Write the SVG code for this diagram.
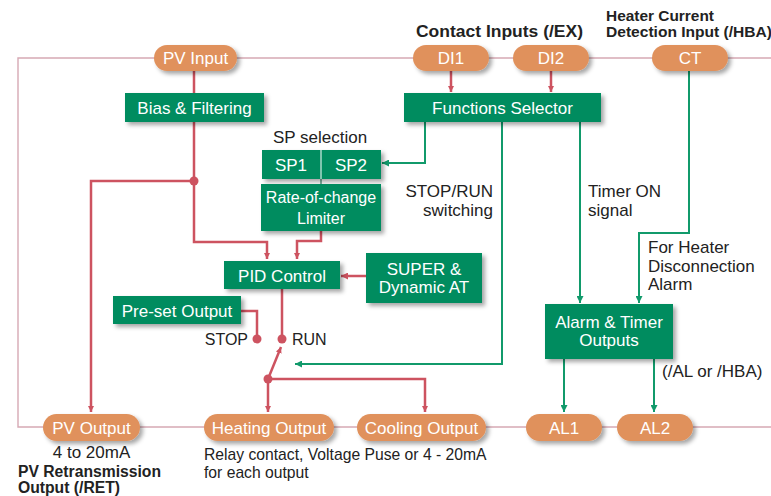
<svg xmlns="http://www.w3.org/2000/svg" width="771" height="496" viewBox="0 0 771 496">
<defs>
<filter id="sh" x="-10%" y="-20%" width="130%" height="160%">
<feDropShadow dx="3" dy="3" stdDeviation="2" flood-color="#000" flood-opacity="0.35"/>
</filter>
<marker id="ar" viewBox="0 0 10 10" refX="10" refY="5" markerWidth="6" markerHeight="9" markerUnits="userSpaceOnUse" orient="auto"><path d="M0,0 L10,5 L0,10 Z" fill="#cd5360"/></marker>
<marker id="ag" viewBox="0 0 10 10" refX="10" refY="5" markerWidth="10" markerHeight="7" markerUnits="userSpaceOnUse" orient="auto"><path d="M0,0 L10,5 L0,10 Z" fill="#119a6b"/></marker>
<marker id="ar2" viewBox="0 0 10 10" refX="10" refY="5" markerWidth="10" markerHeight="7" markerUnits="userSpaceOnUse" orient="auto"><path d="M0,0 L10,5 L0,10 Z" fill="#cd5360"/></marker>
</defs>
<style>
text{font-family:"Liberation Sans",Arial,sans-serif;}
.frame{fill:none;stroke:#d6a9b4;stroke-width:1.4;}
.r{fill:none;stroke:#cd5360;stroke-width:2.5;}
.g{fill:none;stroke:#119a6b;stroke-width:2;}
.box{fill:#008c5f;filter:url(#sh);}
.pill{fill:#e0915c;filter:url(#sh);}
.wt{fill:#fff;font-size:17px;text-anchor:middle;}
.lb{fill:#222;font-size:17px;}
.hd{fill:#222;font-size:16px;font-weight:bold;}
.dot{fill:#cd5360;}
</style>
<rect width="771" height="496" fill="#fff"/>
<g id="frame">
<path class="frame" d="M771,58 H18 V427 H771"/>
</g>
<g id="connectors">
<path class="r" d="M194,71 V242 H267 V259" marker-end="url(#ar)"/>
<path class="r" d="M194,181 H91 V412" marker-end="url(#ar)"/>
<path class="r" d="M451,71 V92" marker-end="url(#ar)"/>
<path class="r" d="M551,71 V92" marker-end="url(#ar)"/>
<path class="r" d="M321,231 V241 H297 V259" marker-end="url(#ar)"/>
<path class="r" d="M366,276 H341" marker-end="url(#ar2)"/>
<path class="r" d="M282,289 V339"/>
<path class="r" d="M241,311 H257 V339"/>
<path class="r" d="M268,379 L281,347" marker-end="url(#ar)"/>
<path class="r" d="M268,379 V412" marker-end="url(#ar)"/>
<path class="r" d="M268,379 H425 V412" marker-end="url(#ar)"/>
<circle class="dot" cx="194" cy="181" r="4.5"/>
<circle class="dot" cx="257" cy="339" r="4.5"/>
<circle class="dot" cx="282" cy="339" r="4.5"/>
<circle class="dot" cx="268" cy="379" r="4.5"/>
<path class="g" d="M425,122 V163 H382" marker-end="url(#ag)"/>
<path class="g" d="M502,122 V364 H295" marker-end="url(#ag)"/>
<path class="g" d="M580,122 V303" marker-end="url(#ag)"/>
<path class="g" d="M689,71 V233 H639 V303" marker-end="url(#ag)"/>
<path class="g" d="M564,359 V412" marker-end="url(#ag)"/>
<path class="g" d="M654,359 V412" marker-end="url(#ag)"/>
<path d="M321,179 V184" stroke="#0a6b48" stroke-width="1"/>
</g>
<g id="pv-input"><rect class="pill" x="154" y="45" width="83" height="26" rx="13"/><text class="wt" x="195.5" y="64">PV Input</text></g>
<g id="di1"><rect class="pill" x="413" y="45" width="76" height="26" rx="13"/><text class="wt" x="451" y="64">DI1</text></g>
<g id="di2"><rect class="pill" x="513" y="45" width="76" height="26" rx="13"/><text class="wt" x="551" y="64">DI2</text></g>
<g id="ct"><rect class="pill" x="652" y="45" width="76" height="26" rx="13"/><text class="wt" x="690" y="64">CT</text></g>
<g id="headings">
<text class="hd" x="416" y="37" textLength="167" lengthAdjust="spacingAndGlyphs">Contact Inputs (/EX)</text>
<text class="hd" x="606" y="21" style="font-size:14px" textLength="108" lengthAdjust="spacingAndGlyphs">Heater Current</text>
<text class="hd" x="606" y="37" style="font-size:14px" textLength="166" lengthAdjust="spacingAndGlyphs">Detection Input (/HBA)</text>
</g>
<g id="bias"><rect class="box" x="125" y="93" width="139" height="29"/><text class="wt" x="194.5" y="114">Bias &amp; Filtering</text></g>
<g id="functions-selector"><rect class="box" x="404" y="93" width="197" height="29"/><text class="wt" x="502.5" y="114">Functions Selector</text></g>
<g id="sp-selection">
<text class="lb" x="273" y="143">SP selection</text>
<rect class="box" x="262" y="150" width="119" height="29"/>
<line x1="321" y1="150" x2="321" y2="179" stroke="#fff" stroke-width="1"/>
<text class="wt" x="291" y="171">SP1</text>
<text class="wt" x="351" y="171">SP2</text>
</g>
<g id="rate-limiter"><rect class="box" x="261" y="184" width="120" height="47"/><text class="wt" x="321" y="203" style="font-size:16px">Rate-of-change</text><text class="wt" x="321" y="224" style="font-size:16px">Limiter</text></g>
<g id="pid"><rect class="box" x="224" y="261" width="116" height="28"/><text class="wt" x="282" y="282">PID Control</text></g>
<g id="super"><rect class="box" x="366" y="253" width="116" height="50"/><text class="wt" x="424" y="275">SUPER &amp;</text><text class="wt" x="424" y="293">Dynamic AT</text></g>
<g id="preset"><rect class="box" x="113" y="296" width="128" height="28"/><text class="wt" x="177" y="317">Pre-set Output</text></g>
<g id="switch-labels">
<text class="lb" x="248" y="345" text-anchor="end" style="font-size:16px">STOP</text>
<text class="lb" x="292" y="345" style="font-size:16px">RUN</text>
</g>
<g id="side-labels">
<text class="lb" x="493" y="197" text-anchor="end">STOP/RUN</text>
<text class="lb" x="493" y="216" text-anchor="end">switching</text>
<text class="lb" x="588" y="197">Timer ON</text>
<text class="lb" x="588" y="216">signal</text>
<text class="lb" x="648" y="253">For Heater</text>
<text class="lb" x="648" y="272">Disconnection</text>
<text class="lb" x="648" y="290">Alarm</text>
<text class="lb" x="662" y="377">(/AL or /HBA)</text>
</g>
<g id="alarm-timer"><rect class="box" x="545" y="304" width="128" height="55"/><text class="wt" x="609" y="328">Alarm &amp; Timer</text><text class="wt" x="609" y="346">Outputs</text></g>
<g id="pv-output"><rect class="pill" x="43" y="414" width="97" height="27" rx="13.5"/><text class="wt" x="91.5" y="434">PV Output</text></g>
<g id="heating-output"><rect class="pill" x="204" y="414" width="130" height="27" rx="13.5"/><text class="wt" x="269" y="434">Heating Output</text></g>
<g id="cooling-output"><rect class="pill" x="357" y="414" width="129" height="27" rx="13.5"/><text class="wt" x="421.5" y="434">Cooling Output</text></g>
<g id="al1"><rect class="pill" x="526" y="414" width="76" height="27" rx="13.5"/><text class="wt" x="564" y="434">AL1</text></g>
<g id="al2"><rect class="pill" x="617" y="414" width="76" height="27" rx="13.5"/><text class="wt" x="655" y="434">AL2</text></g>
<g id="bottom-labels">
<text class="lb" x="91.5" y="458" text-anchor="middle">4 to 20mA</text>
<text class="hd" x="18" y="477" textLength="143" lengthAdjust="spacingAndGlyphs">PV Retransmission</text>
<text class="hd" x="18" y="493" textLength="102" lengthAdjust="spacingAndGlyphs">Output (/RET)</text>
<text class="lb" x="204" y="460" style="font-size:15.7px">Relay contact, Voltage Puse or 4 - 20mA</text>
<text class="lb" x="204" y="478" style="font-size:15.7px">for each output</text>
</g>
</svg>
